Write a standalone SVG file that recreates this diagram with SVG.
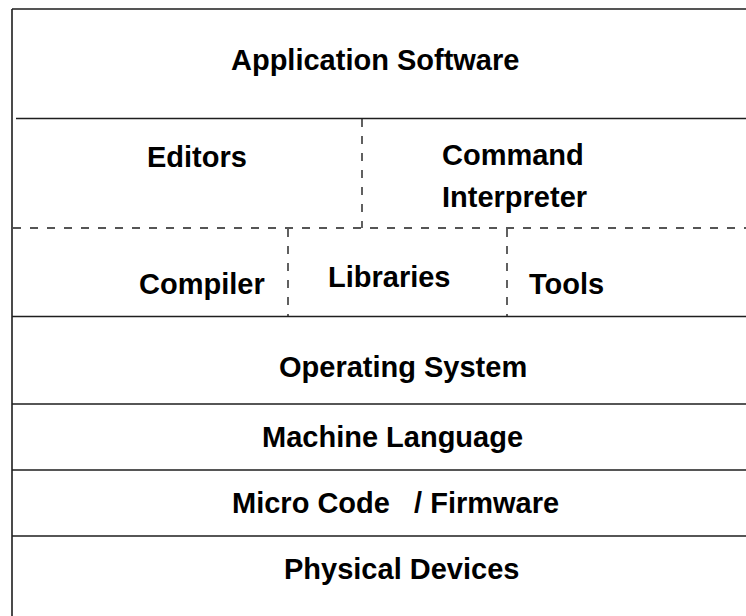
<svg xmlns="http://www.w3.org/2000/svg" width="746" height="616" viewBox="0 0 746 616">
  <style>
    .rule { stroke: #1e1e1e; stroke-width: 1.6; fill: none; }
    .dash { stroke: #1e1e1e; stroke-width: 1.4; fill: none; stroke-dasharray: 8 9; }
    .label { font-family: "Liberation Sans", Arial, sans-serif; font-weight: bold; font-size: 29px; fill: #000; }
  </style>
  <rect width="746" height="616" fill="#fff"/>

  <!-- layer boundaries -->
  <g id="dividers">
    <path class="rule" d="M12 9 H760 M12 9 V630"/>
    <path class="rule" d="M16 118.5 H760"/>
    <path class="dash" d="M13 228 H760"/>
    <path class="dash" d="M362 119 V228"/>
    <path class="dash" d="M288 229 V316"/>
    <path class="dash" d="M507 229 V316"/>
    <path class="rule" d="M12 316.5 H760"/>
    <path class="rule" d="M12 404 H760"/>
    <path class="rule" d="M12 470 H760"/>
    <path class="rule" d="M12 536 H760"/>
  </g>

  <g id="application-software">
    <text class="label" x="231" y="70">Application Software</text>
  </g>
  <g id="editors">
    <text class="label" x="147" y="167">Editors</text>
  </g>
  <g id="command-interpreter">
    <text class="label" x="442" y="165">Command</text>
    <text class="label" x="442" y="207">Interpreter</text>
  </g>
  <g id="compiler">
    <text class="label" x="139" y="294">Compiler</text>
  </g>
  <g id="libraries">
    <text class="label" x="328" y="287">Libraries</text>
  </g>
  <g id="tools">
    <text class="label" x="529" y="294">Tools</text>
  </g>
  <g id="operating-system">
    <text class="label" x="279" y="377">Operating System</text>
  </g>
  <g id="machine-language">
    <text class="label" x="262" y="447">Machine Language</text>
  </g>
  <g id="micro-code-firmware">
    <text class="label" x="232" y="513" xml:space="preserve">Micro Code   / Firmware</text>
  </g>
  <g id="physical-devices">
    <text class="label" x="284" y="579">Physical Devices</text>
  </g>
</svg>
